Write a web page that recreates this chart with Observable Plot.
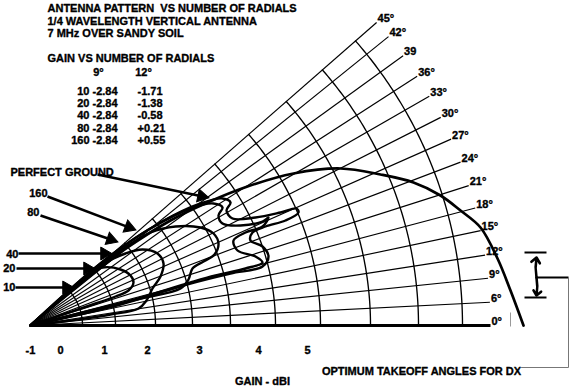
<!DOCTYPE html>
<html><head><meta charset="utf-8">
<script src="https://cdn.jsdelivr.net/npm/d3@7"></script>
<script src="https://cdn.jsdelivr.net/npm/@observablehq/plot@0.6"></script>
<style>html,body{margin:0;padding:0;background:#fff} svg{display:block}</style>
</head><body><div id="chart"></div>
<script>
// ---- data ----
const rayLabels = ["0°","6°","9°","12°","15°","18°","21°","24°","27°","30°","33°","36°","39","42°","45°"];
const rayAngles = [0,2.9,5.9,8.8,11.9,14.8,17.7,20.8,23.9,26.9,29.9,32.8,35.9,38.9,41.2]; // drawn angle
const arcRadii = [5.2,8.5,12.5,16.2,20,24.5,29,34,38.8,43.2];
const gainTicks = [-1,0,1,2,3,4,5];
const radials = [10,20,40,80,160];
const gainAt9 = ["-2.84","-2.84","-2.84","-2.84","-2.84"];
const gainAt12 = ["-1.71","-1.38","-0.58","+0.21","+0.55"];
const titleLines = ["ANTENNA PATTERN\u00a0 VS NUMBER OF RADIALS","1/4 WAVELENGTH VERTICAL ANTENNA","7 MHz OVER SANDY SOIL"];
const tableTitle = "GAIN VS NUMBER OF RADIALS";
const tableHeads = ["9°","12°"];
// lobe outlines (x,y in chart units from the feed point)
const lobe10 = [[0,0],[3,2.6],[4.8,4.2],[6,5.3],[7.2,5.8],[9,5.6],[10,5],[10.3,4.3],[9.8,3.5],[8.5,2.9],[6.5,2.2],[3.5,1.2],[0,0]];
const lobe20 = [[0,0],[4,3.5],[7,6],[9.5,7.2],[11.2,7.6],[12.7,7.2],[13.3,6.2],[13,4.9],[12.2,3.7],[11.6,2.5],[10.8,1.7],[8,1.1],[4,0.5],[0,0]];
const lobe40 = [[0,0],[5,4.3],[9,7.5],[12,9.3],[14.5,9.9],[17,9.8],[18.3,9.2],[18.8,8.2],[18.4,7.1],[17.3,6.4],[16.2,5.7],[15.8,4.6],[15,3.7],[11,2.7],[6,1.5],[0,0]];
const lobe80 = [[0,0],[7,6.2],[12,9.7],[16,11.7],[18.3,12.2],[19.2,11.8],[18.8,11],[19.2,10.2],[21,10],[23.2,10.4],[23.8,10.8],[23.2,9.9],[21.5,9.3],[20.3,8.5],[20.7,7.5],[22.5,6.9],[23.2,6.3],[21.5,5.7],[18.5,5],[16,4.3],[9,2.2],[0,0]];
const lobe160 = [[0,0],[8,7],[13,10.3],[17,12.2],[19.2,12.7],[20,12.3],[19.6,11.5],[20.2,10.7],[22.5,10.8],[25,11.3],[26.6,11.7],[26.8,11.3],[25.5,10.5],[23.5,9.9],[22.2,9.3],[22,8.5],[23.2,7.9],[23.8,6.9],[23.2,5.9],[20,5.2],[16,4.2],[9,2.1],[0,0]];
const lobePerfect = [[0,0],[6,5],[10,8],[14,10.5],[17.7,12.3],[21.7,13.9],[26.3,15.2],[31,15.7],[35,15.1],[38.3,14.3],[41,13],[43,11.5],[45,9.8],[46.7,6.7],[48,3.5],[49.3,0]];

// ---- derived geometry ----
const rad = d => d * Math.PI / 180;
const rayLen = 46;
const rays = rayAngles.map((a, i) => ({x2: rayLen * Math.cos(rad(a)), y2: rayLen * Math.sin(rad(a)), label: rayLabels[i], i}));
const topAngle = rayAngles[rayAngles.length - 1];
const arcs = arcRadii.flatMap((r, k) => d3.range(0, topAngle, 0.5).concat(topAngle).map(a => ({k, x: r * Math.cos(rad(a)), y: r * Math.sin(rad(a))})));
const lobes = [lobe10, lobe20, lobe40, lobe80, lobe160].flatMap((pts, k) => pts.map(([x, y]) => ({k, x, y})));
const perfect = lobePerfect.map(([x, y]) => ({x, y}));
const gainRadius = d3.scaleLinear().domain(gainTicks).range([0, 3, 7.4, 11.7, 16.9, 22.8, 27.7]);

// pixel-position helpers for annotations
const P = (px, py) => ({x: (px - 30) / 10, y: (325 - py) / 10});
const seg = ([a, b, c, d]) => { const p = P(a, b), q = P(c, d); return {x1: p.x, y1: p.y, x2: q.x, y2: q.y}; };
const font = {fontFamily: "Liberation Sans, Arial, sans-serif", fontWeight: "bold", fontSize: 11, fill: "black", stroke: "black", strokeWidth: 0.35};
const T = (items, opts = {}) => Plot.text(items.map(([t, px, py]) => ({t, ...P(px, py)})), {x: "x", y: "y", text: "t", ...font, ...opts});

// pointer arrows (tail -> tip, pixels)
const pointers = [[97,174,207,197],[47,196,134,229],[40,215,116,241],[18,253,110,253],[16,268,93,268],[15,287,72,287]];
const headOff = 6;
const shafts = pointers.map(([a, b, c, d]) => { const L = Math.hypot(c - a, d - b), ux = (c - a) / L, uy = (d - b) / L; return seg([a, b, c - ux * headOff, d - uy * headOff]); });
const heads = pointers.map(([a, b, c, d]) => { const L = Math.hypot(c - a, d - b), ux = (c - a) / L, uy = (d - b) / L; return {...P(c - ux * headOff, d - uy * headOff), rot: Math.atan2(ux, -uy) * 180 / Math.PI}; });

const chart = Plot.plot({
  width: 570, height: 388, margin: 0,
  x: {domain: [-3, 54], axis: null},
  y: {domain: [-6.3, 32.5], axis: null},
  style: {background: "white"},
  marks: [
    // grid rays
    Plot.link(rays, {x1: 0, y1: 0, x2: "x2", y2: "y2", stroke: "black", strokeWidth: d => d.i === 0 ? 2.8 : 1.15}),
    // grid arcs
    Plot.line(arcs, {x: "x", y: "y", z: "k", stroke: "black", strokeWidth: 1.35}),
    // ray labels
    Plot.text(rays, {x: "x2", y: "y2", text: "label", textAnchor: "start", dx: 1, dy: -4, ...font, fontSize: 11}),
    // radial lobes
    Plot.line(lobes, {x: "x", y: "y", z: "k", curve: "catmull-rom", stroke: "black", strokeWidth: 2.4}),
    Plot.line(perfect, {x: "x", y: "y", curve: "catmull-rom", stroke: "black", strokeWidth: 2.7}),
    // gain axis tick labels
    Plot.text(gainTicks, {x: d => gainRadius(d), y: -2.5, text: d => String(d), ...font}),
    // titles & table
    T(titleLines.map((t, i) => [t, 47, 8 + 12.5 * i]), {textAnchor: "start"}),
    T([[tableTitle, 47, 58]], {textAnchor: "start"}),
    T(tableHeads.map((t, i) => [t, [98, 143][i], 72])),
    T(radials.map((r, i) => [String(r), 89, 91 + 12.2 * i]), {textAnchor: "end"}),
    T(gainAt9.map((g, i) => [g, 92, 91 + 12.2 * i]), {textAnchor: "start"}),
    T(gainAt12.map((g, i) => [g, 137, 91 + 12.2 * i]), {textAnchor: "start"}),
    // arrow labels
    T([["PERFECT GROUND", 10, 172]], {textAnchor: "start"}),
    T([["160", 47, 193], ["80", 39, 212], ["40", 18, 254], ["20", 15, 268], ["10", 15, 287]], {textAnchor: "end"}),
    Plot.link(shafts, {x1: "x1", y1: "y1", x2: "x2", y2: "y2", stroke: "black", strokeWidth: 2.6}),
    Plot.dot(heads, {x: "x", y: "y", rotate: "rot", symbol: "triangle", r: 4.8, fill: "black", stroke: "black", strokeWidth: 1}),
    // axis title and DX note
    T([["GAIN - dBI", 262, 381], ["OPTIMUM TAKEOFF ANGLES FOR DX", 421, 371]]),
    // takeoff bracket
    Plot.link([[524,252,546,252],[524,297,546,297],[536,277,568,277]].map(seg),
      {x1: "x1", y1: "y1", x2: "x2", y2: "y2", stroke: "black", strokeWidth: 2}),
    Plot.arrow([[536,277,536,257],[536,277,536,295]].map(seg),
      {x1: "x1", y1: "y1", x2: "x2", y2: "y2", stroke: "black", strokeWidth: 2.6, headLength: 9, headAngle: 80, bend: 10}),
    Plot.line([[568,277],[568,367],[521,367]].map(([a, b]) => P(a, b)), {x: "x", y: "y", stroke: "#777", strokeWidth: 1}),
    Plot.link([[510,312,510,326]].map(seg), {x1: "x1", y1: "y1", x2: "x2", y2: "y2", stroke: "#999", strokeWidth: 1})
  ]
});
document.getElementById("chart").append(chart);
</script></body></html>
